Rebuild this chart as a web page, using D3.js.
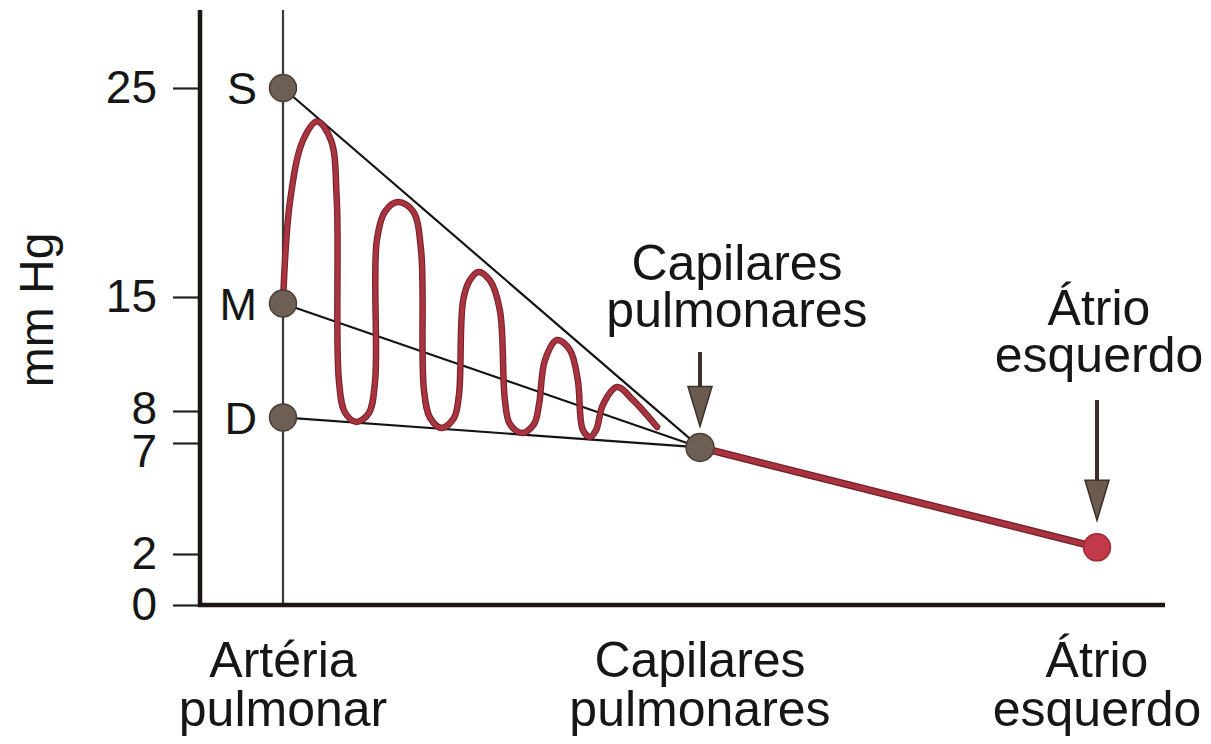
<!DOCTYPE html>
<html>
<head>
<meta charset="utf-8">
<script src="https://cdn.jsdelivr.net/npm/d3@7"></script>
<style>
  body { margin: 0; background: #fff; }
  svg text { font-family: "Liberation Sans", Arial, sans-serif; fill: #161616; }
</style>
</head>
<body>
<svg id="drawing_region"></svg>
<script>
// pressure values (mm Hg)
const yTicks = [0, 2, 7, 8, 15, 25];
const sites = [["Artéria", "pulmonar"], ["Capilares", "pulmonares"], ["Átrio", "esquerdo"]];
const arteryLabels = ["S", "M", "D"];
const arteryValues = [25, 14.6, 7.8];
const capillaryValue = 6.8;
const atriumValue = 2.3;
// pulse wave: position between artery (0) and capillaries (1), pressure
const waveT = [0, 0.017, 0.048, 0.082, 0.115, 0.129, 0.134, 0.149, 0.177, 0.206, 0.221,
    0.225, 0.245, 0.276, 0.312, 0.331, 0.338, 0.353, 0.381, 0.41, 0.422,
    0.432, 0.448, 0.468, 0.496, 0.520, 0.532, 0.544, 0.573, 0.602, 0.614,
    0.628, 0.657, 0.688, 0.707, 0.719, 0.736, 0.751, 0.767, 0.801, 0.839, 0.897];
const waveP = [14.7, 19.6, 22.5, 23.4, 22.5, 19.6, 9.9, 7.94, 7.66, 7.94, 9.9,
    17.7, 19.1, 19.55, 19.1, 17.25, 9.3, 7.78, 7.47, 7.78, 9.0,
    14.8, 15.8, 16.2, 15.8, 14.2, 8.7, 7.59, 7.31, 7.59, 8.4,
    11.1, 12.36, 11.75, 9.9, 7.41, 7.19, 7.41, 8.37, 9.47, 8.68, 7.5];

const width = 1211, height = 744;
const svg = d3.select('#drawing_region')
    .attr('width', width)
    .attr('height', height);

// the original axis is not drawn to scale, so piecewise scales
const x = d3.scaleLinear().domain([0, 1, 2]).range([283, 700, 1097]);
const y = d3.scaleLinear().domain(yTicks).range([605, 554, 443, 411, 297, 88]);

const red = "#a9343f", redDark = "#72202a", brown = "#6e5f55";

// thin vertical guide at the pulmonary artery
svg.append("line")
    .attr("x1", x(0)).attr("x2", x(0))
    .attr("y1", 10).attr("y2", y(0))
    .attr("stroke", "#3a3a3a").attr("stroke-width", 2.2);

// y axis
const yAxis = svg.append("g")
    .attr("transform", "translate(200,0)")
    .call(d3.axisLeft(y).tickValues(yTicks).tickSize(27).tickSizeOuter(0).tickPadding(16));
yAxis.select(".domain").remove();
yAxis.selectAll(".tick line").attr("stroke", "#222").attr("stroke-width", 2.2);
yAxis.selectAll(".tick text")
    .attr("font-size", 46)
    .attr("font-family", "'Liberation Sans', Arial, sans-serif")
    .attr("fill", "#161616")
    .attr("dy", d => d === 7 ? "0.52em" : d === 8 ? "0.28em" : "0.32em");

svg.append("line")
    .attr("x1", 200).attr("x2", 200)
    .attr("y1", 10).attr("y2", y(0) + 2)
    .attr("stroke", "#1c1614").attr("stroke-width", 4.5);
svg.append("line")
    .attr("x1", 198).attr("x2", 1165)
    .attr("y1", y(0)).attr("y2", y(0))
    .attr("stroke", "#1c1614").attr("stroke-width", 4.5);

// y label
svg.append("text")
    .attr("transform", `translate(53, 310) rotate(-90)`)
    .attr("text-anchor", "middle")
    .attr("font-size", 48)
    .text("mm Hg");

// lines from S, M, D to the capillaries
svg.selectAll(".conv")
    .data(arteryValues)
    .enter()
    .append("line")
    .attr("class", "conv")
    .attr("x1", x(0)).attr("y1", d => y(d))
    .attr("x2", x(1)).attr("y2", y(capillaryValue))
    .attr("stroke", "#141414").attr("stroke-width", 2.2);

// pulse wave
const wave = waveT.map((t, i) => [t, waveP[i]]);
const waveLine = d3.line()
    .x(d => x(d[0]))
    .y(d => y(d[1]))
    .curve(d3.curveCatmullRom.alpha(0.5));
svg.append("path").attr("d", waveLine(wave))
    .attr("fill", "none").attr("stroke", redDark).attr("stroke-width", 6.5)
    .attr("stroke-linecap", "round");
svg.append("path").attr("d", waveLine(wave))
    .attr("fill", "none").attr("stroke", red).attr("stroke-width", 4.5)
    .attr("stroke-linecap", "round");

// capillaries to atrium
const seg = [[1, capillaryValue], [2, atriumValue]];
svg.append("path").attr("d", d3.line().x(d => x(d[0])).y(d => y(d[1]))(seg))
    .attr("stroke", redDark).attr("stroke-width", 7.5).attr("fill", "none");
svg.append("path").attr("d", d3.line().x(d => x(d[0])).y(d => y(d[1]))(seg))
    .attr("stroke", red).attr("stroke-width", 5).attr("fill", "none");

// points
svg.selectAll(".apt")
    .data(arteryValues)
    .enter()
    .append("circle")
    .attr("class", "apt")
    .attr("cx", x(0)).attr("cy", d => y(d)).attr("r", 13.5)
    .attr("fill", brown).attr("stroke", "#4a3e36").attr("stroke-width", 1.5);
svg.append("circle")
    .attr("cx", x(1)).attr("cy", y(capillaryValue)).attr("r", 14)
    .attr("fill", brown).attr("stroke", "#4a3e36").attr("stroke-width", 1.5);
svg.append("circle")
    .attr("cx", x(2)).attr("cy", y(atriumValue)).attr("r", 13.5)
    .attr("fill", "#c23a4a").attr("stroke", "#a02a38").attr("stroke-width", 1.5);

svg.selectAll(".plab")
    .data(arteryLabels)
    .enter()
    .append("text")
    .attr("class", "plab")
    .attr("x", 257)
    .attr("y", (d, i) => y(arteryValues[i]))
    .attr("dy", "0.36em")
    .attr("text-anchor", "end")
    .attr("font-size", 45)
    .text(d => d);

// category labels under the axis
sites.forEach((lines, i) => {
    const t = svg.append("text")
        .attr("text-anchor", "middle")
        .attr("font-size", 50);
    lines.forEach((s, j) => {
        t.append("tspan")
            .attr("x", x(i))
            .attr("y", 677 + j * 49)
            .text(s);
    });
});

// annotations with arrows
const notes = [
    {site: 1, value: capillaryValue, tx: 737, ty: 280, top: 352, gap: 21},
    {site: 2, value: atriumValue, tx: 1099, ty: 325, top: 400, gap: 27}
];
notes.forEach(n => {
    const t = svg.append("text")
        .attr("text-anchor", "middle")
        .attr("font-size", 50);
    sites[n.site].forEach((s, j) => {
        t.append("tspan").attr("x", n.tx).attr("y", n.ty + j * 47).text(s);
    });
    const ax = x(n.site);
    const tip = y(n.value) - n.gap;
    svg.append("line")
        .attr("x1", ax).attr("x2", ax)
        .attr("y1", n.top).attr("y2", tip - 30)
        .attr("stroke", "#3a2f29").attr("stroke-width", 4);
    svg.append("path")
        .attr("d", `M${ax - 12},${tip - 40} L${ax + 12},${tip - 40} L${ax},${tip} Z`)
        .attr("fill", "#6b5b4f").attr("stroke", "#3a2f29").attr("stroke-width", 1.5);
});
</script>
</body>
</html>
